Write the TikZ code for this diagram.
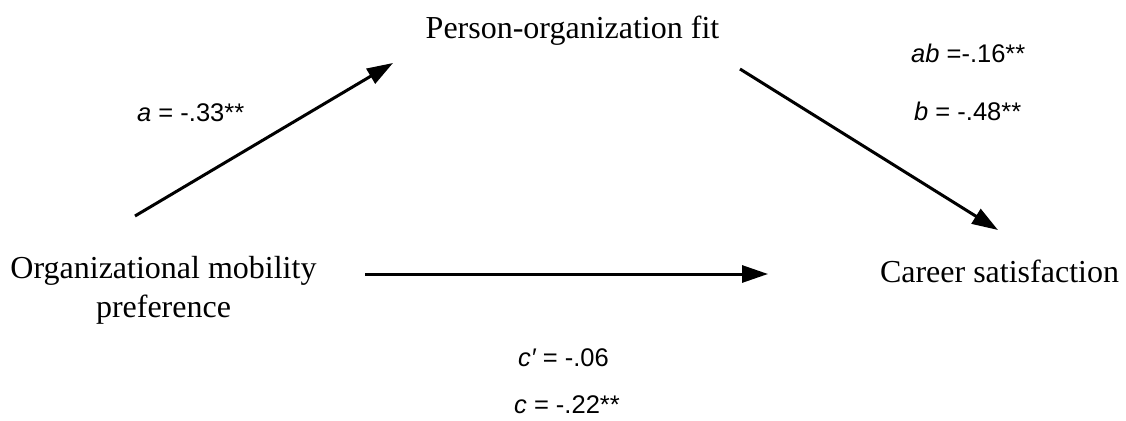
\documentclass[tikz,border=0pt]{standalone}
\usepackage{fontspec}
\setmainfont{Liberation Serif}
\newfontfamily\labfont{Liberation Sans}
\usetikzlibrary{arrows.meta}
\tikzset{
  var/.style={font=\fontsize{32}{39}\selectfont, inner sep=0pt, align=center},
  coef/.style={font=\labfont\fontsize{25.5}{30}\selectfont, inner sep=0pt, anchor=base west},
  path/.style={line width=3pt, -{Triangle[length=26pt,width=17pt]}}
}
\begin{document}
\begin{tikzpicture}[x=1pt,y=-1pt]
\useasboundingbox (0,0) rectangle (1126,420);
\node[var, anchor=base] (pof) at (572.5,38) {Person-organization fit};
\node[var, anchor=base] (cs) at (999.5,282) {Career satisfaction};
\node[var, anchor=center] (omp) at (163.5,290) {Organizational mobility\\preference};
\coordinate (aS) at (135,216);
\coordinate (aE) at (393,63);
\coordinate (bS) at (740,69);
\coordinate (bE) at (998,230);
\coordinate (cS) at (365,274);
\coordinate (cE) at (768,274);
\draw[path] (aS) -- (aE);
\draw[path] (bS) -- (bE);
\draw[path] (cS) -- (cE);
\node[coef] (la) at (137,121) {{\itshape a} = -.33**};
\node[coef] (lab) at (911,63) {{\itshape ab} =-.16**};
\node[coef] (lb) at (914,120) {{\itshape b} = -.48**};
\node[coef] (lcp) at (518,366) {{\itshape c′} = -.06};
\node[coef] (lc) at (514,413) {{\itshape c} = -.22**};
\end{tikzpicture}
\end{document}
